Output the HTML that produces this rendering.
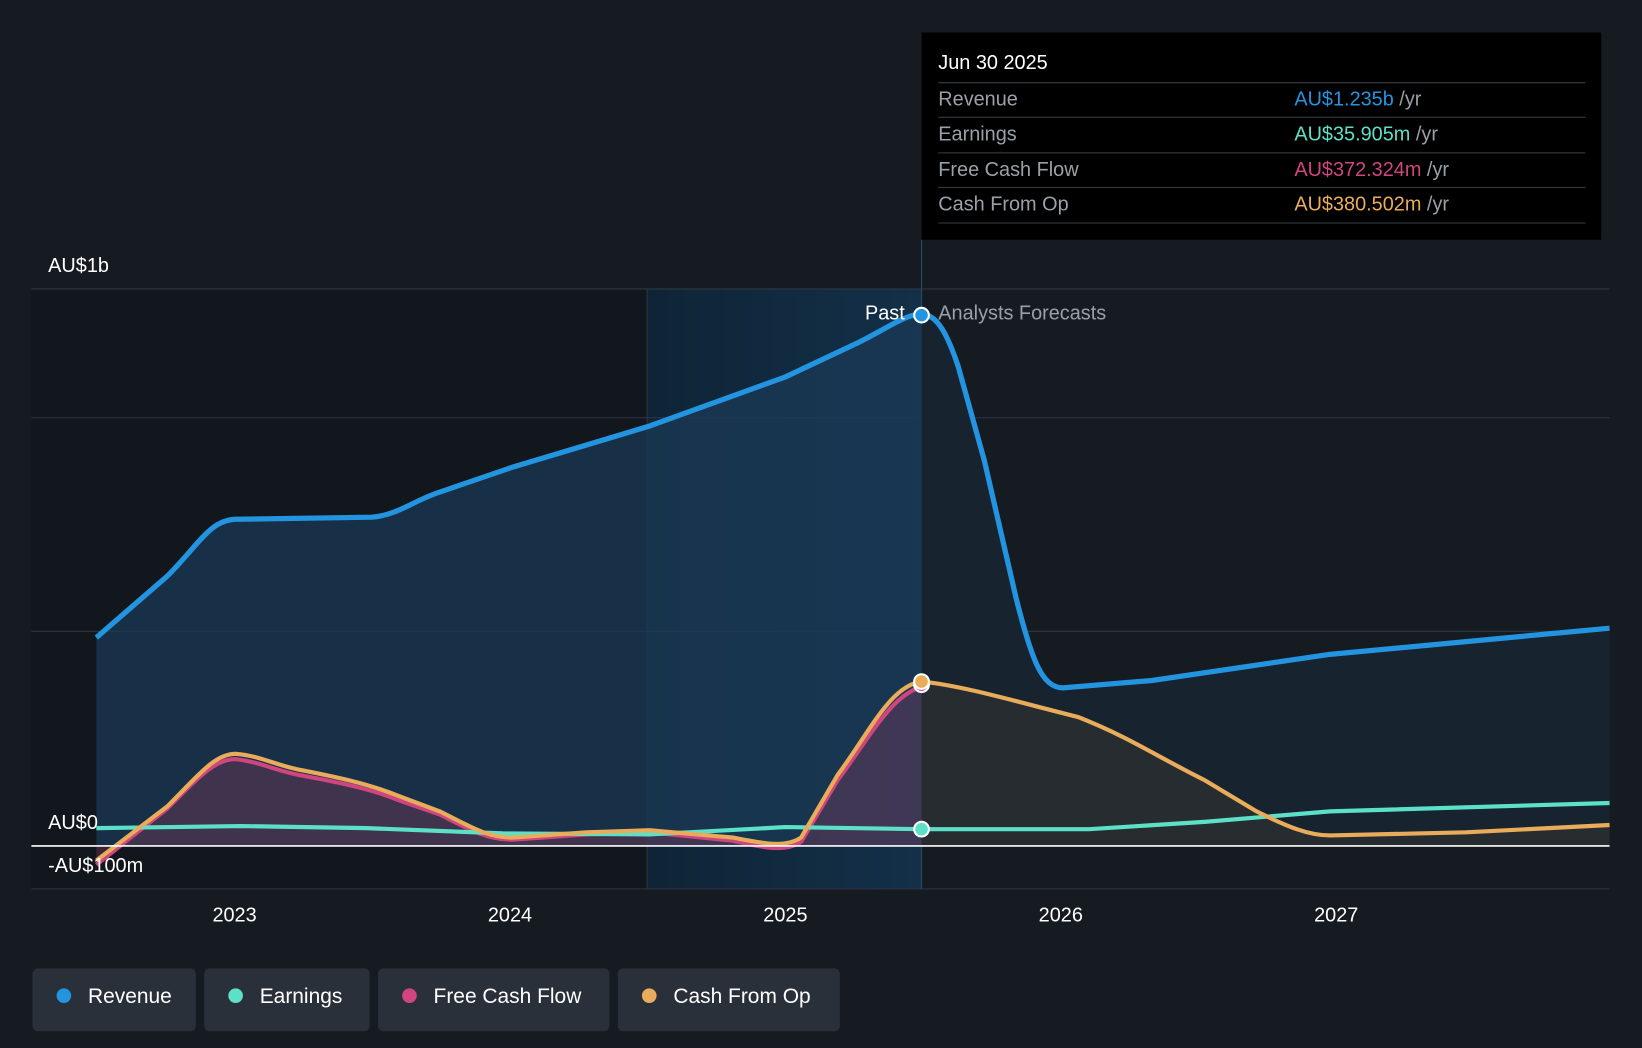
<!DOCTYPE html>
<html><head><meta charset="utf-8"><style>
html,body{margin:0;padding:0;background:#151b24;}
svg{display:block;}
text{font-family:"Liberation Sans",sans-serif;}
</style></head><body>
<svg width="1642" height="1048" viewBox="0 0 1568 1001" preserveAspectRatio="none">
<rect width="1568" height="1001" fill="#161b22"/>
<rect x="30" y="276" width="588" height="573" fill="#12161d"/>
<defs><linearGradient id="hl" x1="0" x2="1" y1="0" y2="0"><stop offset="0" stop-color="#0f2436"/><stop offset="1" stop-color="#133049"/></linearGradient>
<clipPath id="past"><rect x="0" y="0" width="880" height="1001"/></clipPath>
<clipPath id="fut"><rect x="880" y="0" width="700" height="1001"/></clipPath></defs>
<rect x="618" y="276" width="262" height="573" fill="url(#hl)"/>
<g stroke="#2e3640" stroke-width="1">
<line x1="30" y1="276" x2="1537" y2="276"/><line x1="30" y1="399" x2="1537" y2="399"/>
<line x1="30" y1="603" x2="1537" y2="603"/><line x1="30" y1="849" x2="1537" y2="849"/>
<line x1="618" y1="276" x2="618" y2="849"/>
</g>
<line x1="880" y1="229" x2="880" y2="849" stroke="#2a4a66" stroke-width="1"/>
<path clip-path="url(#past)" d="M92,609 L160,550 C190,520 200,497 225,496 L355,494 C380,492 395,478 420,470 L490,446 L620,407 L750,360 L820,327 C850,312 865,300 880,300 L880,808 L92,808 Z" fill="#1b3a56" opacity="0.75"/>
<path clip-path="url(#fut)" d="M880,300 C895,300 905,320 915,350 L940,440 L970,570 C985,630 995,657 1015,657 L1100,650 L1270,625 L1537,600 L1537,808 L880,808 Z" fill="#17232f"/>
<path d="M92,609 L160,550 C190,520 200,497 225,496 L355,494 C380,492 395,478 420,470 L490,446 L620,407 L750,360 L820,327 C850,312 865,300 880,300 C895,300 905,320 915,350 L940,440 L970,570 C985,630 995,657 1015,657 L1100,650 L1270,625 L1537,600" fill="none" stroke="#2394e0" stroke-width="5"/>
<path d="M880,651 C920,655 970,670 1030,685 C1080,705 1100,720 1150,745 L1200,775 C1230,790 1250,798 1270,798 L1400,795 L1537,788 L1537,808 L880,808 Z" fill="#262c30"/>
<path d="M92,826 L160,772 C190,742 205,725 225,725 C250,728 265,737 290,741 C320,747 350,752 380,764 L420,778 C450,793 465,802 490,802 L560,797 L620,795 L700,803 C730,810 750,814 765,804 L800,745 C830,705 850,665 880,656 L880,808 L92,808 Z" fill="#7a3a5a" opacity="0.4"/>
<path d="M92,826 L160,772 C190,742 205,725 225,725 C250,728 265,737 290,741 C320,747 350,752 380,764 L420,778 C450,793 465,802 490,802 L560,797 L620,795 L700,803 C730,810 750,814 765,804 L800,745 C830,705 850,665 880,656" fill="none" stroke="#d0457f" stroke-width="4"/>
<path d="M92,791 L230,789 L350,791 L480,796 L620,797 L750,790 L880,792 L1040,792 L1150,785 L1270,775 L1537,767" fill="none" stroke="#5ce1c8" stroke-width="4"/>
<path d="M92,822 L160,770 C190,740 205,720 225,720 C250,722 265,732 290,736 C320,742 350,748 380,760 L420,775 C450,790 465,800 490,800 L560,795 L620,793 L700,800 C730,806 750,810 765,800 L800,740 C830,700 850,655 880,651 C920,655 970,670 1030,685 C1080,705 1100,720 1150,745 L1200,775 C1230,790 1250,798 1270,798 L1400,795 L1537,788" fill="none" stroke="#e8ac5a" stroke-width="4"/>
<line x1="30" y1="808" x2="1537" y2="808" stroke="#ffffff" stroke-width="1.5"/>
<circle cx="880" cy="301" r="7" fill="#2394e0" stroke="#fff" stroke-width="2"/>
<circle cx="880" cy="654" r="7" fill="#d0457f" stroke="#fff" stroke-width="2"/>
<circle cx="880" cy="651" r="7" fill="#e8ac5a" stroke="#fff" stroke-width="2"/>
<circle cx="880" cy="792" r="7" fill="#5ce1c8" stroke="#fff" stroke-width="2"/>
<text x="46" y="260" fill="#fff" font-size="19">AU$1b</text>
<text x="46" y="792" fill="#fff" font-size="19">AU$0</text>
<text x="46" y="833" fill="#fff" font-size="19">-AU$100m</text>
<text x="864" y="305" fill="#fff" font-size="19" text-anchor="end">Past</text>
<text x="896" y="305" fill="#9aa0a8" font-size="19">Analysts Forecasts</text>
<g fill="#fff" font-size="19" text-anchor="middle">
<text x="224" y="880">2023</text><text x="487" y="880">2024</text><text x="750" y="880">2025</text><text x="1013" y="880">2026</text><text x="1276" y="880">2027</text>
</g>
<rect x="880" y="31" width="649" height="198" fill="#000"/>
<text x="896" y="66" fill="#fff" font-size="19">Jun 30 2025</text>
<g stroke="#3a3f46"><line x1="896" y1="79" x2="1514" y2="79"/><line x1="896" y1="112" x2="1514" y2="112"/><line x1="896" y1="146" x2="1514" y2="146"/><line x1="896" y1="179" x2="1514" y2="179"/><line x1="896" y1="213" x2="1514" y2="213"/></g>
<g font-size="19" fill="#9aa0a8">
<text x="896" y="101">Revenue</text><text x="896" y="134">Earnings</text><text x="896" y="168">Free Cash Flow</text><text x="896" y="201">Cash From Op</text>
<text x="1236" y="101"><tspan fill="#2394e0">AU$1.235b</tspan> /yr</text>
<text x="1236" y="134"><tspan fill="#5ce1c8">AU$35.905m</tspan> /yr</text>
<text x="1236" y="168"><tspan fill="#d0457f">AU$372.324m</tspan> /yr</text>
<text x="1236" y="201"><tspan fill="#e8ac5a">AU$380.502m</tspan> /yr</text>
</g>
<g font-size="20" fill="#fff">
<rect x="31" y="925" width="156" height="60" rx="5" fill="#2a3039"/><circle cx="61" cy="951" r="7" fill="#2394e0"/><text x="84" y="958">Revenue</text>
<rect x="195" y="925" width="158" height="60" rx="5" fill="#2a3039"/><circle cx="225" cy="951" r="7" fill="#5ce1c8"/><text x="248" y="958">Earnings</text>
<rect x="361" y="925" width="221" height="60" rx="5" fill="#2a3039"/><circle cx="391" cy="951" r="7" fill="#d0457f"/><text x="414" y="958">Free Cash Flow</text>
<rect x="590" y="925" width="212" height="60" rx="5" fill="#2a3039"/><circle cx="620" cy="951" r="7" fill="#e8ac5a"/><text x="643" y="958">Cash From Op</text>
</g>
</svg>
</body></html>
